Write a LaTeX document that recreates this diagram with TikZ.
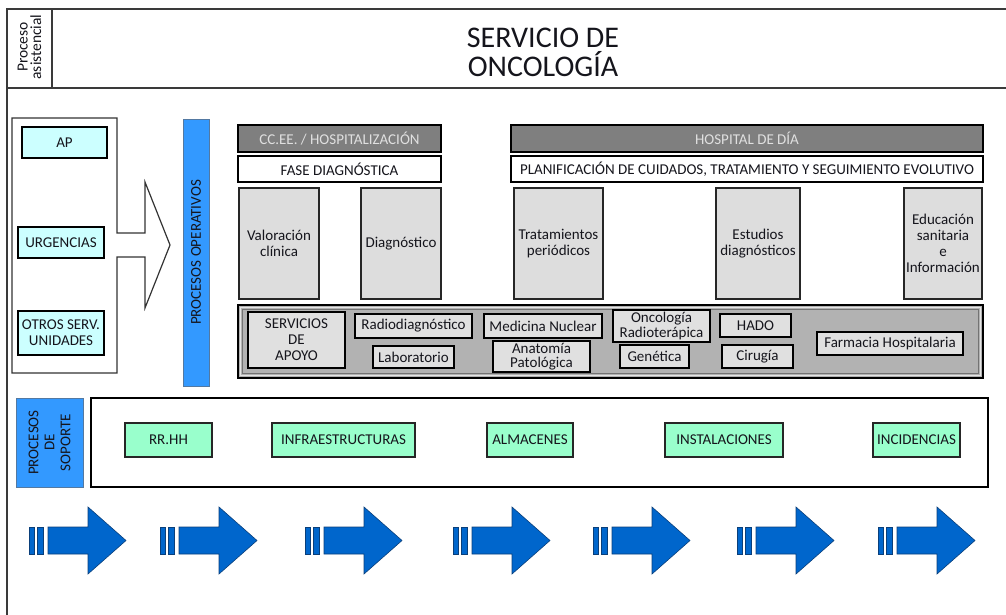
\documentclass[tikz,border=0pt]{standalone}
\usepackage{fontspec}
\setmainfont{Carlito}
\definecolor{txt}{HTML}{15151C}
\definecolor{cyanbox}{HTML}{CCFFFF}
\definecolor{bluebar}{HTML}{3399FF}
\definecolor{mint}{HTML}{99FFCC}
\definecolor{darkhdr}{HTML}{7F7F7F}
\definecolor{hdrtxt}{HTML}{E0E0E0}
\definecolor{tallgray}{HTML}{DDDDDD}
\definecolor{servbg}{HTML}{B2B2B2}
\definecolor{servbox}{HTML}{E0E0E0}
\definecolor{arrblue}{HTML}{0066CC}
\definecolor{arredge}{HTML}{0A3F7A}
\definecolor{frame}{HTML}{3A3A3A}
\newcommand{\fs}{\fontsize{15}{16}\selectfont}
\newcommand{\fstight}{\fontsize{15}{14.5}\selectfont}
\newcommand{\mybox}[7]{\node[#6, minimum width={#4-#2}, minimum height={#5-#3}] (#1) at ({(#2+#4)/2},{(#3+#5)/2}) {#7};}
\begin{document}
\begin{tikzpicture}[x=1pt,y=-1pt,
  base/.style={inner sep=0pt, outer sep=0pt, font=\fs, text=txt, align=center},
  cyanb/.style={base, draw=black, line width=1.8pt, fill=cyanbox},
  blueb/.style={base, draw=arredge!70, line width=0.8pt, fill=bluebar},
  hdrb/.style={base, draw=black, line width=1.5pt, fill=darkhdr, text=hdrtxt},
  phaseb/.style={base, draw=black, line width=1.5pt, fill=white},
  tallb/.style={base, draw=black!85, line width=1.6pt, fill=tallgray},
  servouter/.style={base, draw=black, line width=1.3pt, fill=servbg},
  servb/.style={base, draw=black, line width=1.8pt, fill=servbox},
  supb/.style={base, draw=black, line width=1.3pt, fill=white},
  mintb/.style={base, draw=black!85, line width=1.6pt, fill=mint},
  framel/.style={draw=frame, line width=1.8pt},
  arr/.style={fill=arrblue, draw=arredge, line width=0.6pt, line join=miter}
]
\useasboundingbox (0,0) rectangle (1006,615);
% header frame
\draw[framel] (1006,9) -- (7,9) -- (7,615);
\draw[framel] (7,88) -- (1006,88);
\draw[framel] (52,9) -- (52,88);
\node[base, rotate=90, font=\fontsize{15.5}{13.5}\selectfont] (pa) at (29.5,47) {Proceso\\asistencial};
\node[base, font=\fontsize{30}{29}\selectfont] (title) at (543,52) {SERVICIO DE\\ONCOLOGÍA};
% left container with arrow
\draw[draw=black!80, line width=1.2pt, line join=miter] (12,118) -- (117,118) -- (117,233) -- (145,233) -- (145,182) -- (170,245) -- (145,308) -- (145,257) -- (117,257) -- (117,373) -- (12,373) -- cycle;
\mybox{ap}{22}{127}{107}{158}{cyanb}{AP}
\mybox{urg}{18}{227}{104}{258}{cyanb}{URGENCIAS}
\mybox{otros}{18}{311}{104}{355}{cyanb}{OTROS SERV.\\UNIDADES}
% processes operativos bar
\mybox{po}{183}{119}{209}{386}{blueb}{}
\node[base, rotate=90] (potext) at (po.center) {PROCESOS OPERATIVOS};
% top headers
\mybox{ccee}{238}{125}{441}{152}{hdrb}{CC.EE. / HOSPITALIZACIÓN}
\mybox{hdia}{511}{125}{983}{152}{hdrb}{HOSPITAL DE DÍA}
\mybox{fase}{238}{156}{441}{182}{phaseb}{FASE DIAGNÓSTICA}
\mybox{plan}{511}{156}{983}{182}{phaseb}{PLANIFICACIÓN DE CUIDADOS, TRATAMIENTO Y SEGUIMIENTO EVOLUTIVO}
% tall gray boxes
\mybox{val}{239}{188}{319}{299}{tallb}{Valoración\\clínica}
\mybox{diag}{361}{188}{441}{299}{tallb}{Diagnóstico}
\mybox{trat}{514}{188}{603}{299}{tallb}{Tratamientos\\periódicos}
\mybox{est}{716}{188}{800}{299}{tallb}{Estudios\\diagnósticos}
\mybox{edu}{904}{188}{982}{299}{tallb}{Educación\\sanitaria\\e\\Información}
% services
\mybox{serv}{238}{305}{983}{378}{servouter}{}
\draw[draw=white!90!black, line width=1pt] (240.8,307.8) rectangle (980.2,375.2);
\draw[draw=black!55, line width=0.6pt] (242.3,309.3) rectangle (978.7,373.7);
\mybox{apoyo}{248}{312}{345}{368}{servb}{SERVICIOS\\DE\\APOYO}
\mybox{radio}{355}{314}{472}{338}{servb}{Radiodiagnóstico}
\mybox{medn}{484}{314}{602}{338}{servb}{Medicina Nuclear}
\mybox{lab}{373}{346}{454}{368}{servb}{Laboratorio}
\mybox{anat}{493}{341}{590}{372}{servb, font=\fstight}{Anatomía\\Patológica}
\mybox{onco}{613}{310}{710}{342}{servb, font=\fstight}{Oncología\\Radioterápica}
\mybox{hado}{720}{314}{791}{337}{servb}{HADO}
\mybox{gen}{620}{345}{689}{368}{servb}{Genética}
\mybox{cir}{722}{345}{793}{368}{servb}{Cirugía}
\mybox{farm}{817}{332}{963}{355}{servb}{Farmacia Hospitalaria}
% support processes
\mybox{ps}{16}{398}{83}{487}{blueb}{}
\node[base, rotate=90] (pstext) at (ps.center) {PROCESOS\\DE\\SOPORTE};
\mybox{sup}{91}{398}{988}{487}{supb}{}
\mybox{rrhh}{125}{423}{212}{457}{mintb}{RR.HH}
\mybox{infra}{272}{423}{415}{457}{mintb}{INFRAESTRUCTURAS}
\mybox{alm}{487}{423}{573}{457}{mintb}{ALMACENES}
\mybox{inst}{665}{423}{783}{457}{mintb}{INSTALACIONES}
\mybox{inc}{873}{423}{960}{457}{mintb}{INCIDENCIAS}
% flow arrows
\foreach \s in {29,160,305,453,593,737,878} {
  \draw[arr] (\s,527) rectangle (\s+5,554);
  \draw[arr] (\s+8,527) rectangle (\s+14,554);
  \draw[arr] (\s+19,527) -- (\s+59,527) -- (\s+59,507) -- (\s+97,540.5) -- (\s+59,574) -- (\s+59,554) -- (\s+19,554) -- cycle;
}
\end{tikzpicture}
\end{document}
